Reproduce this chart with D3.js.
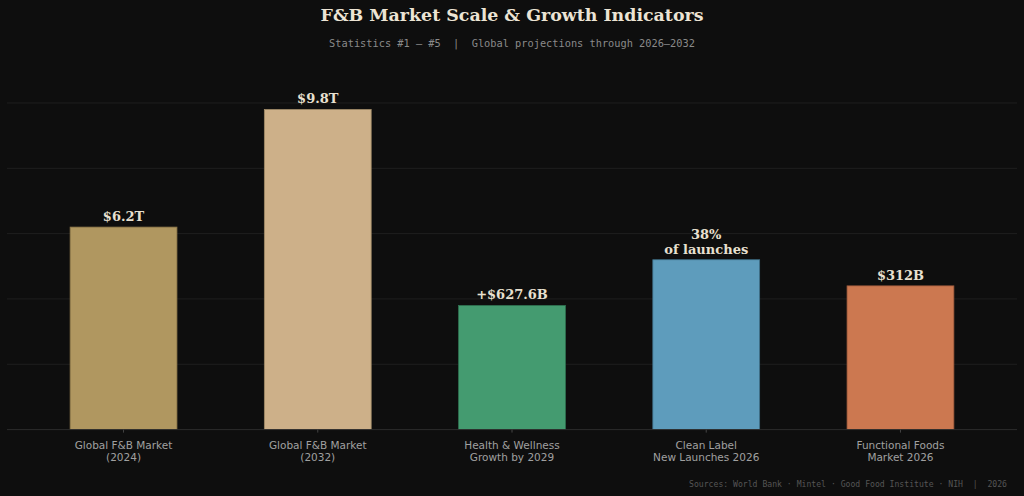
<!DOCTYPE html>
<html><head><meta charset="utf-8">
<script src="https://cdn.jsdelivr.net/npm/d3@7"></script>
<style>html,body{margin:0;padding:0;background:#0e0e0e;}svg{display:block;}</style>
</head><body>
<svg id="c" width="1024" height="496"></svg>
<script>
const categories = [["Global F&B Market","(2024)"],["Global F&B Market","(2032)"],["Health & Wellness","Growth by 2029"],["Clean Label","New Launches 2026"],["Functional Foods","Market 2026"]];
const values = [6.2, 9.8, 3.8, 5.2, 4.4];
const valueLabels = [["$6.2T"],["$9.8T"],["+$627.6B"],["38%","of launches"],["$312B"]];
const colors = ["#b09760","#cdb089","#449b70","#5e9cbc","#cc7850"];
const strokes = ["#8a7448","#a08a68","#2f7252","#3f6f88","#9c5a3c"];
const yTicks = [0,2,4,6,8,10];

const svg = d3.select("#c");
svg.append("rect").attr("width",1024).attr("height",496).attr("fill","#0e0e0e");

const x = d3.scaleBand().domain(d3.range(values.length)).range([7,1017]).paddingInner(0.45).paddingOuter(0.325);
const y = d3.scaleLinear().domain([0,11.56]).range([429.6,52]);

svg.append("g").selectAll("line").data(yTicks.slice(1)).join("line")
  .attr("x1",7).attr("x2",1017).attr("y1",d=>y(d)).attr("y2",d=>y(d))
  .attr("stroke","#1f1f1f").attr("stroke-width",1);

svg.append("g").selectAll("rect").data(values).join("rect")
  .attr("x",(d,i)=>x(i)).attr("width",x.bandwidth())
  .attr("y",d=>y(d)).attr("height",d=>y(0)-y(d))
  .attr("fill",(d,i)=>colors[i]).attr("stroke",(d,i)=>strokes[i]).attr("stroke-width",0.8);

const xAxis = d3.axisBottom(x).tickSize(3).tickFormat("");
const gx = svg.append("g").attr("transform",`translate(0,${y(0)})`).call(xAxis);
gx.select(".domain").attr("stroke","#2c2c2c").attr("d","M7,0H1017");
gx.selectAll(".tick line").attr("stroke","#444");

const xl = svg.append("g").selectAll("text").data(categories).join("text")
  .attr("x",(d,i)=>x(i)+x.bandwidth()/2).attr("y",449)
  .attr("text-anchor","middle").attr("fill","#a0a0a0")
  .attr("font-family","DejaVu Sans").attr("font-size",10.5);
xl.selectAll("tspan").data(d=>d).join("tspan")
  .attr("x",function(){return this.parentNode.getAttribute("x");})
  .attr("dy",(d,i)=>i===0?0:12.3).text(d=>d);

const vl = svg.append("g").selectAll("text").data(valueLabels).join("text")
  .attr("x",(d,i)=>x(i)+x.bandwidth()/2)
  .attr("y",(d,i)=>y(values[i])-6-(d.length-1)*15)
  .attr("text-anchor","middle").attr("fill","#e8e0d0")
  .attr("font-family","DejaVu Serif").attr("font-weight","bold").attr("font-size",13);
vl.selectAll("tspan").data(d=>d).join("tspan")
  .attr("x",function(){return this.parentNode.getAttribute("x");})
  .attr("dy",(d,i)=>i===0?0:15).text(d=>d);

svg.append("text").attr("x",512).attr("y",21).attr("text-anchor","middle")
  .attr("fill","#ece4d4").attr("font-family","DejaVu Serif").attr("font-weight","bold").attr("font-size",17.4)
  .text("F&B Market Scale & Growth Indicators");
svg.append("text").attr("x",512).attr("y",47).attr("text-anchor","middle")
  .attr("fill","#8a8a8a").attr("font-family","DejaVu Sans Mono").attr("font-size",10.3)
  .style("white-space","pre")
  .text("Statistics #1 – #5  |  Global projections through 2026–2032");
svg.append("text").attr("x",1007).attr("y",487).attr("text-anchor","end")
  .attr("fill","#555").attr("font-family","DejaVu Sans Mono").attr("font-size",8.15)
  .style("white-space","pre")
  .text("Sources: World Bank · Mintel · Good Food Institute · NIH  |  2026");
</script>
</body></html>
